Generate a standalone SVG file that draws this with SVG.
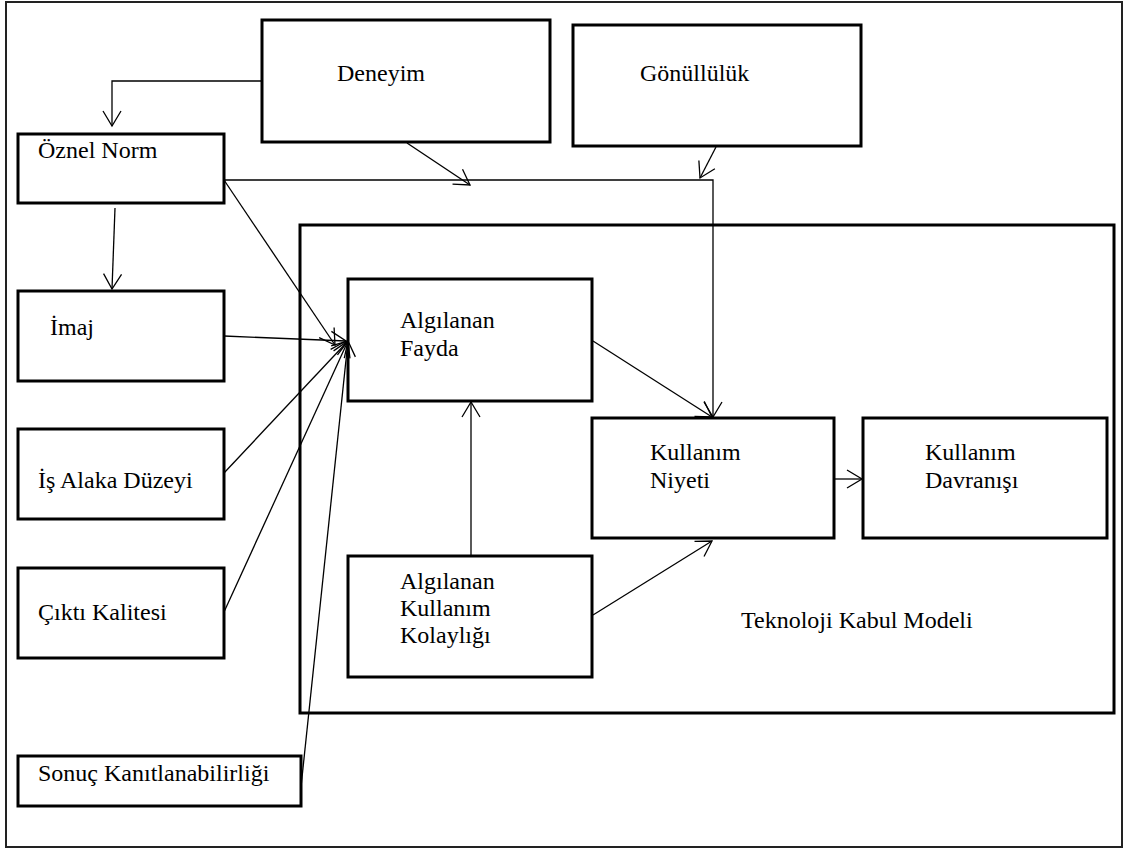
<svg xmlns="http://www.w3.org/2000/svg" width="1128" height="850" viewBox="0 0 1128 850">
<defs>
<marker id="arr" markerUnits="userSpaceOnUse" markerWidth="18" markerHeight="22" refX="16" refY="11" orient="auto" overflow="visible">
<path d="M1,2 L16,11 L1,20" fill="none" stroke="#000" stroke-width="1.3"/>
</marker>
<style>
.box{fill:#fff;stroke:#000;stroke-width:3}
.frame{fill:none;stroke:#222;stroke-width:2}
.t{font-size:24px;fill:#000}
.c{fill:none;stroke:#000;stroke-width:1.3;marker-end:url(#arr)}
</style>
</defs>
<rect x="0" y="0" width="1128" height="850" fill="#fff"/>
<rect class="frame" x="6" y="2" width="1116" height="845"/>

<g font-family="Liberation Serif, DejaVu Serif, serif">
<g id="tkm">
<rect class="box" x="300" y="225" width="814" height="488"/>
<text class="t" x="741" y="628">Teknoloji Kabul Modeli</text>
</g>
<g id="deneyim">
<rect class="box" x="262" y="20" width="288" height="122"/>
<text class="t" x="337" y="81">Deneyim</text>
</g>
<g id="gonulluluk">
<rect class="box" x="573" y="25" width="288" height="121"/>
<text class="t" x="640" y="81">Gönüllülük</text>
</g>
<g id="oznel-norm">
<rect class="box" x="18" y="134" width="206" height="69"/>
<text class="t" x="38" y="158">Öznel Norm</text>
</g>
<g id="imaj">
<rect class="box" x="18" y="291" width="206" height="90"/>
<text class="t" x="50" y="335">İmaj</text>
</g>
<g id="is-alaka">
<rect class="box" x="18" y="429" width="206" height="90"/>
<text class="t" x="38" y="488">İş Alaka Düzeyi</text>
</g>
<g id="cikti">
<rect class="box" x="18" y="568" width="206" height="90"/>
<text class="t" x="38" y="620">Çıktı Kalitesi</text>
</g>
<g id="sonuc">
<rect class="box" x="18" y="756" width="283" height="50"/>
<text class="t" x="38" y="781">Sonuç Kanıtlanabilirliği</text>
</g>
<g id="fayda">
<rect class="box" x="348" y="279" width="244" height="122"/>
<text class="t" x="400" y="328">Algılanan</text>
<text class="t" x="400" y="356">Fayda</text>
</g>
<g id="kolaylik">
<rect class="box" x="348" y="556" width="244" height="121"/>
<text class="t" x="400" y="589">Algılanan</text>
<text class="t" x="400" y="616">Kullanım</text>
<text class="t" x="400" y="643">Kolaylığı</text>
</g>
<g id="niyet">
<rect class="box" x="592" y="418" width="242" height="120"/>
<text class="t" x="650" y="460">Kullanım</text>
<text class="t" x="650" y="488">Niyeti</text>
</g>
<g id="davranis">
<rect class="box" x="863" y="418" width="244" height="120"/>
<text class="t" x="925" y="460">Kullanım</text>
<text class="t" x="925" y="488">Davranışı</text>
</g>
</g>

<g id="connectors">
<polyline class="c" points="262,81 112,81 112,126"/>
<line class="c" x1="115" y1="208" x2="112" y2="289"/>
<line class="c" x1="407" y1="143" x2="470" y2="185"/>
<line class="c" x1="716" y1="147" x2="700" y2="178"/>
<polyline class="c" points="224,180 713,180 713,417"/>
<line class="c" x1="224" y1="180" x2="335" y2="345"/>
<line class="c" x1="224" y1="336" x2="346" y2="341"/>
<line class="c" x1="224" y1="473" x2="348" y2="341"/>
<line class="c" x1="224" y1="612" x2="348" y2="341"/>
<line class="c" x1="301" y1="787" x2="348" y2="341"/>
<line class="c" x1="593" y1="341" x2="712" y2="417"/>
<line class="c" x1="471" y1="556" x2="471" y2="402"/>
<line class="c" x1="593" y1="615" x2="712" y2="541"/>
<line class="c" x1="834" y1="479" x2="862" y2="479"/>
</g>
</svg>
